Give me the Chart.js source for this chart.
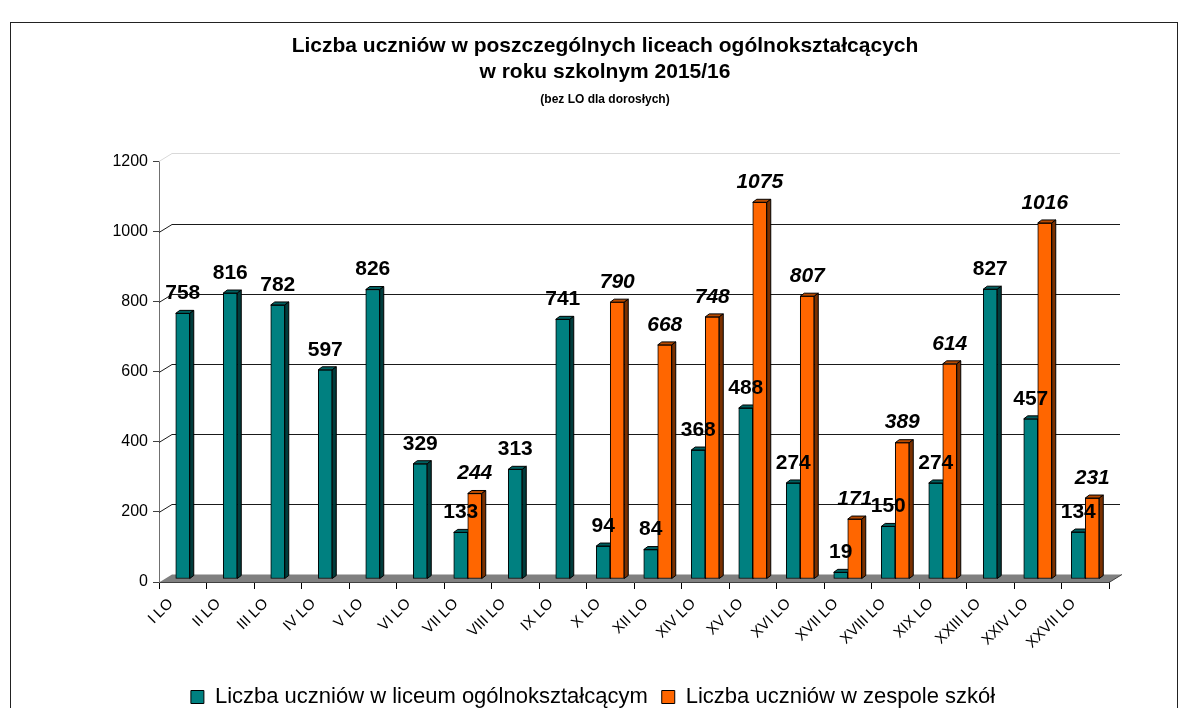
<!DOCTYPE html>
<html>
<head>
<meta charset="utf-8">
<script src="https://cdn.jsdelivr.net/npm/chart.js@4.4.0/dist/chart.umd.min.js"></script>
<style>
  html, body { margin: 0; padding: 0; background: #fff; }
</style>
</head>
<body>
<canvas id="chart" width="1188" height="708"></canvas>
<script>
// --- data ---
const schools = ['I LO', 'II LO', 'III LO', 'IV LO', 'V LO', 'VI LO', 'VII LO', 'VIII LO', 'IX LO', 'X LO',
  'XII LO', 'XIV LO', 'XV LO', 'XVI LO', 'XVII LO', 'XVIII LO', 'XIX LO', 'XXIII LO', 'XXIV LO', 'XXVII LO'];
const liceumCounts = [758, 816, 782, 597, 826, 329, 133, 313, 741, 94, 84, 368, 488, 274, 19, 150, 274, 827, 457, 134];
const zespolCounts = [null, null, null, null, null, null, 244, null, null, 790, 668, 748, 1075, 807, 171, 389, 614, null, 1016, 231];
const yTicks = [0, 200, 400, 600, 800, 1000, 1200];

const FONT = '"Liberation Sans", Arial, sans-serif';
const WALL_DX = 13, WALL_DY = 8;   // back wall offset (3D look)
const BAR_DX = 4, BAR_DY = 3;      // depth of each bar
const BAR_SHIFT = 3;               // bars stand a little behind the front edge

// back wall gridlines + grey floor
const wallPlugin = {
  id: 'wall',
  beforeDatasetsDraw(chart) {
    const { ctx, chartArea: a, scales: { y } } = chart;
    ctx.save();
    ctx.lineWidth = 1;
    yTicks.forEach(v => {
      if (v === 0) return;
      const py = Math.round(y.getPixelForValue(v)) + 0.5;
      ctx.strokeStyle = v === 1200 ? '#d9d9d9' : '#1a1a1a';
      ctx.beginPath();
      ctx.moveTo(a.left, py);
      ctx.lineTo(a.left + WALL_DX, py - WALL_DY);
      ctx.lineTo(a.right + WALL_DX - 2, py - WALL_DY);
      ctx.stroke();
    });
    const y0 = Math.round(y.getPixelForValue(0)) + 0.5;
    ctx.fillStyle = '#808080';
    ctx.beginPath();
    ctx.moveTo(a.left, y0);
    ctx.lineTo(a.left + WALL_DX, y0 - WALL_DY);
    ctx.lineTo(a.right + WALL_DX, y0 - WALL_DY);
    ctx.lineTo(a.right, y0);
    ctx.closePath();
    ctx.fill();
    ctx.strokeStyle = '#404040';
    ctx.beginPath();
    ctx.moveTo(a.right, y0);
    ctx.lineTo(a.right + WALL_DX, y0 - WALL_DY);
    ctx.stroke();
    ctx.restore();
  }
};

// draw the bars category by category so neighbours overlap the right way
const barsPlugin = {
  id: 'bars3d',
  beforeDatasetDraw() { return false; },
  afterDatasetsDraw(chart) {
    const { ctx } = chart;
    const sides = ['#003c3c', '#7a3000'];
    const tops = ['#006060', '#b84a00'];
    ctx.save();
    ctx.translate(0, -BAR_SHIFT);
    schools.forEach((s, idx) => {
      chart.data.datasets.forEach((ds, di) => {
        const v = ds.data[idx];
        if (v === null || v === undefined) return;
        const bar = chart.getDatasetMeta(di).data[idx];
        bar.draw(ctx);
        const { x, y, base, width } = bar.getProps(['x', 'y', 'base', 'width'], true);
        const x0 = x - width / 2, x1 = x + width / 2;
        ctx.lineWidth = 1;
        ctx.strokeStyle = '#000';
        ctx.fillStyle = tops[di];
        ctx.beginPath();
        ctx.moveTo(x0, y);
        ctx.lineTo(x0 + BAR_DX, y - BAR_DY);
        ctx.lineTo(x1 + BAR_DX, y - BAR_DY);
        ctx.lineTo(x1, y);
        ctx.closePath();
        ctx.fill(); ctx.stroke();
        ctx.fillStyle = sides[di];
        ctx.beginPath();
        ctx.moveTo(x1, y);
        ctx.lineTo(x1 + BAR_DX, y - BAR_DY);
        ctx.lineTo(x1 + BAR_DX, base - BAR_DY);
        ctx.lineTo(x1, base);
        ctx.closePath();
        ctx.fill(); ctx.stroke();
      });
    });
    ctx.restore();
  }
};

// value labels above the bars
const labelsPlugin = {
  id: 'valueLabels',
  afterDatasetsDraw(chart) {
    const { ctx } = chart;
    ctx.save();
    ctx.fillStyle = '#000';
    ctx.textAlign = 'center';
    ctx.textBaseline = 'middle';
    chart.data.datasets.forEach((ds, di) => {
      ctx.font = (di === 1 ? 'italic ' : '') + 'bold 21px ' + FONT;
      chart.getDatasetMeta(di).data.forEach((bar, idx) => {
        const v = ds.data[idx];
        if (v === null || v === undefined) return;
        ctx.fillText(String(v), bar.x, bar.y - BAR_SHIFT - 20);
      });
    });
    ctx.restore();
  }
};

// frame round the whole chart + legend nudge
const framePlugin = {
  id: 'frame',
  afterLayout(chart) {
    const l = chart.legend;
    l.top += 10; l.bottom += 10;
    l.left -= 12; l.right -= 12;
  },
  beforeDraw(chart) {
    const { ctx } = chart;
    ctx.save();
    ctx.strokeStyle = '#222';
    ctx.lineWidth = 1;
    ctx.strokeRect(10.5, 22.5, 1167, 700);
    ctx.restore();
  }
};

new Chart(document.getElementById('chart'), {
  type: 'bar',
  data: {
    labels: schools,
    datasets: [{
      label: 'Liczba uczniów w liceum ogólnokształcącym',
      data: liceumCounts,
      backgroundColor: '#008080',
      borderColor: '#000',
      borderWidth: 1,
      borderSkipped: false,
      barThickness: 14,
      skipNull: true
    }, {
      label: 'Liczba uczniów w zespole szkół',
      data: zespolCounts,
      backgroundColor: '#ff6600',
      borderColor: '#000',
      borderWidth: 1,
      borderSkipped: false,
      barThickness: 14,
      skipNull: true
    }]
  },
  options: {
    responsive: false,
    animation: false,
    devicePixelRatio: 1,
    layout: { padding: { left: 22, right: 0, top: 0, bottom: 0 } },
    plugins: {
      title: {
        display: true,
        text: ['Liczba uczniów w poszczególnych liceach ogólnokształcących', 'w roku szkolnym 2015/16'],
        color: '#000',
        font: { family: FONT, size: 21, weight: 'bold', lineHeight: 1.24 },
        padding: { top: 33, bottom: 7 }
      },
      subtitle: {
        display: true,
        text: '(bez LO dla dorosłych)',
        color: '#000',
        font: { family: FONT, size: 12, weight: 'bold', lineHeight: 1.2 },
        padding: { top: 0, bottom: 55 }
      },
      legend: {
        position: 'bottom',
        labels: {
          color: '#000',
          font: { family: FONT, size: 22 },
          boxWidth: 13,
          boxHeight: 13,
          padding: 14
        }
      },
      tooltip: { enabled: false }
    },
    scales: {
      x: {
        grid: { drawOnChartArea: false, drawTicks: true, tickLength: 7, color: '#000', offset: true },
        border: { color: '#000' },
        ticks: { color: '#000', font: { family: FONT, size: 15, lineHeight: 1.2 }, maxRotation: 45, minRotation: 45, padding: 6, labelOffset: -12 },
        afterFit(scale) { scale.height = 80; }
      },
      y: {
        min: 0,
        max: 1200,
        afterBuildTicks(scale) { scale.ticks = yTicks.map(v => ({ value: v })); },
        grid: { drawOnChartArea: false, drawTicks: true, tickLength: 6, color: '#404040' },
        border: { color: '#707070' },
        ticks: { color: '#000', font: { family: FONT, size: 16 }, padding: 5, callback: v => String(v) },
        afterFit(scale) { scale.width = 137; }
      },
      // empty axis on the right, only keeps the plot area off the right edge
      side: {
        type: 'linear',
        position: 'right',
        grid: { display: false },
        border: { display: false },
        ticks: { display: false },
        afterFit(scale) { scale.width = 79; }
      }
    }
  },
  plugins: [wallPlugin, barsPlugin, labelsPlugin, framePlugin]
});
</script>
</body>
</html>
